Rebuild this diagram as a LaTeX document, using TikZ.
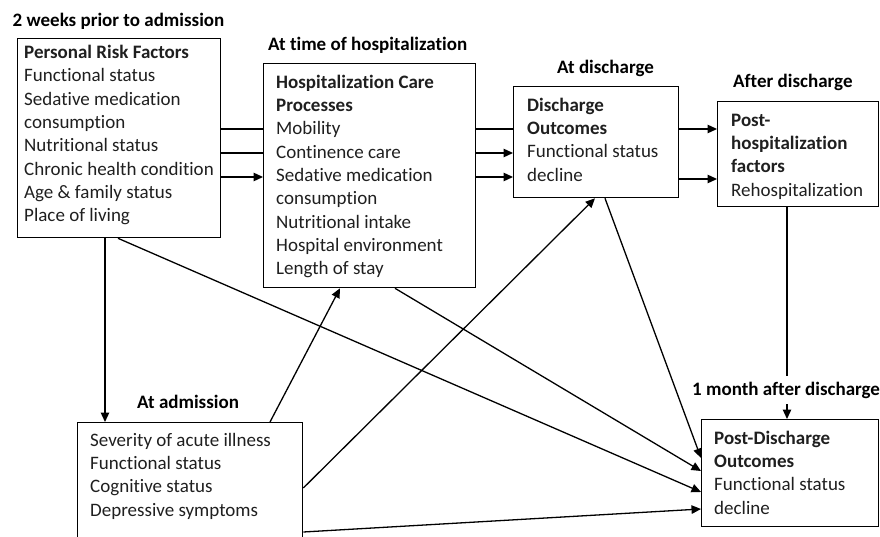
\documentclass[tikz,border=0pt]{standalone}
\usepackage{fontspec}
\setmainfont{Carlito}[Ligatures=NoCommon]
\usetikzlibrary{arrows.meta,calc}
\begin{document}
\begin{tikzpicture}[x=1pt,y=-1pt,
  box/.style={draw,line width=1.3pt,inner sep=0pt,anchor=north west},
  txt/.style={anchor=north west,inner sep=0pt,align=left,text=black!88,font=\fontsize{19}{23.3}\selectfont},
  ttl/.style={anchor=base west,inner sep=0pt,font=\fontsize{19}{23.3}\selectfont\bfseries},
  conn/.style={line width=1.3pt},
  arr/.style={line width=1.3pt,-{Triangle[length=9.5pt,width=8.5pt]}}]
\useasboundingbox (0,0) rectangle (880,537);
\clip (0,0) rectangle (880,537);
% boxes
\node[box,minimum width=203pt,minimum height=199pt] (A) at (17,38) {};
\node[box,minimum width=212pt,minimum height=224pt] (B) at (263,63) {};
\node[box,minimum width=165pt,minimum height=111pt] (C) at (513,86) {};
\node[box,minimum width=161pt,minimum height=105pt] (D) at (717,101) {};
\node[box,minimum width=177pt,minimum height=107pt] (E) at (701,419) {};
\node[box,minimum width=225pt,minimum height=140pt] (F) at (77,422) {};
% titles
\node[ttl] (T1) at (12.5,27) {2 weeks prior to admission};
\node[ttl] (T2) at (268,51) {At time of hospitalization};
\node[ttl] (T3) at (557,74) {At discharge};
\node[ttl] (T4) at (733,88) {After discharge};
\node[ttl] (T5) at (137,408) {At admission};
\node[ttl] (T6) at (692,395) {1 month after discharge};
% texts
\node[txt] (tA) at (24,42) {\strut\textbf{Personal Risk Factors}\\Functional status\\Sedative medication\\consumption\\Nutritional status\\Chronic health condition\\Age \& family status\\Place of living};
\node[txt] (tB) at (276,71.7) {\strut\textbf{Hospitalization Care}\\\textbf{Processes}\\Mobility\\Continence care\\Sedative medication\\consumption\\Nutritional intake\\Hospital environment\\Length of stay};
\node[txt] (tC) at (527,94.7) {\strut\textbf{Discharge}\\\textbf{Outcomes}\\Functional status\\decline};
\node[txt] (tD) at (731,109.7) {\strut\textbf{Post-}\\\textbf{hospitalization}\\\textbf{factors}\\Rehospitalization};
\node[txt] (tE) at (714,427.7) {\strut\textbf{Post-Discharge}\\\textbf{Outcomes}\\Functional status\\decline};
\node[txt] (tF) at (90,429.7) {\strut Severity of acute illness\\Functional status\\Cognitive status\\Depressive symptoms};
% A -> B
\draw[conn] ($(A.north east)+(0,91)$) coordinate (ab1) -- (ab1 -| B.west);
\draw[conn] ($(A.north east)+(0,115)$) coordinate (ab2) -- (ab2 -| B.west);
\draw[arr] ($(A.north east)+(0,139)$) coordinate (ab3) -- (ab3 -| B.west);
% B -> C
\draw[conn] ($(B.north east)+(0,66)$) coordinate (bc1) -- (bc1 -| C.west);
\draw[arr] ($(B.north east)+(0,90)$) coordinate (bc2) -- (bc2 -| C.west);
\draw[arr] ($(B.north east)+(0,114)$) coordinate (bc3) -- (bc3 -| C.west);
% C -> D
\draw[arr] ($(C.north east)+(0,43)$) coordinate (cd1) -- (cd1 -| D.west);
\draw[arr] ($(C.north east)+(0,93)$) coordinate (cd2) -- (cd2 -| D.west);
% D -> E through label
\draw[conn] ($(D.south west)+(70,0)$) coordinate (de1) -- ($(de1 |- T6.north)+(0,-5)$);
\draw[arr] ($(de1 |- T6.south)+(0,6)$) -- (de1 |- E.north);
% A -> F
\draw[arr] ($(A.south west)+(88,0)$) coordinate (af1) -- (af1 |- F.north);
% diagonals
\draw[arr] ($(F.north west)+(193,0)$) -- ($(B.south west)+(77,0)$);
\draw[arr] ($(F.north east)+(0,66)$) -- ($(C.south west)+(82,0)$);
\draw[arr] ($(F.north east)+(0,110)$) -- ($(E.north west)+(0,90)$);
\draw[arr] ($(A.south west)+(101,0)$) -- ($(E.north west)+(0,73)$);
\draw[arr] ($(B.south west)+(132,0)$) -- ($(E.north west)+(0,52)$);
\draw[arr] ($(C.south west)+(92,0)$) -- ($(E.north west)+(0,39)$);
\end{tikzpicture}
\end{document}
